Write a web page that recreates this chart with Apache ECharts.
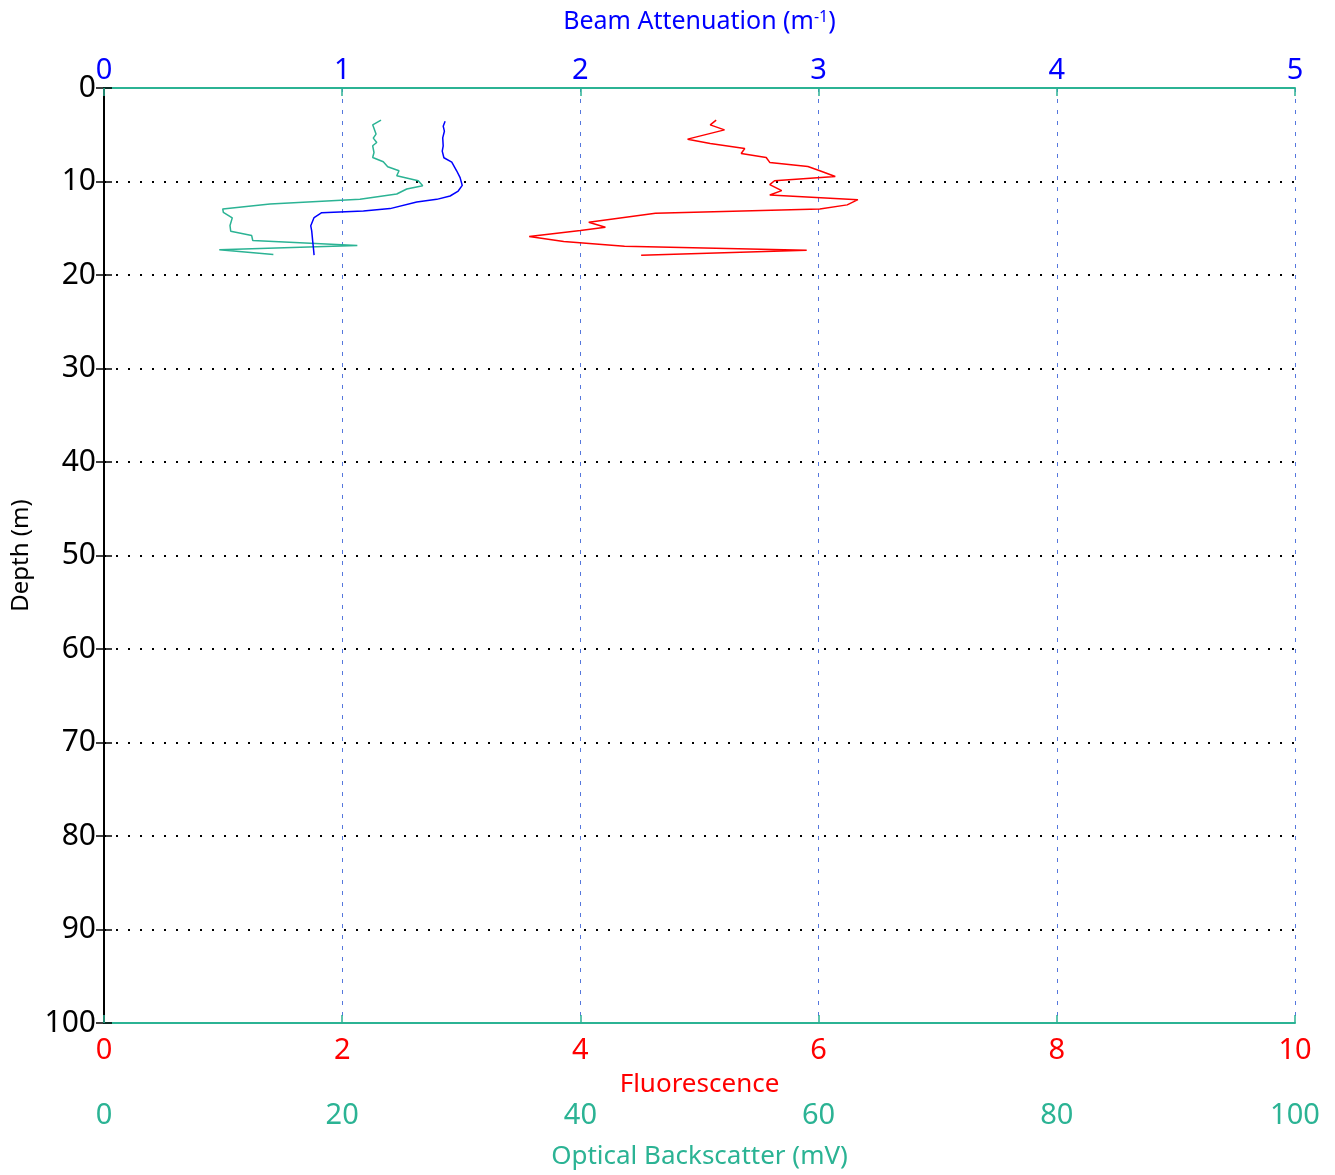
<!DOCTYPE html>
<html>
<head>
<meta charset="utf-8">
<script src="https://cdn.jsdelivr.net/npm/echarts@6/dist/echarts.min.js"></script>
<style>html,body{margin:0;padding:0;background:#fff;overflow:hidden;}#c{position:absolute;left:0;top:0;width:1335px;height:1175px;}</style>
</head>
<body>
<div id="c"></div>
<script>
// Fluorescence (red)
const fluorDepth = [3.44,3.94,4.48,5.47,5.94,6.47,7.0,7.43,7.96,8.39,8.85,9.46,9.92,10.34,10.98,11.44,11.94,12.5,12.93,13.4,14.36,14.9,15.25,15.88,16.42,16.92,17.34,17.9];
const fluorValues = [5.14,5.09,5.21,4.90,5.09,5.38,5.35,5.56,5.59,5.91,6.01,6.14,5.63,5.59,5.69,5.59,6.33,6.24,6.01,4.63,4.07,4.21,4.00,3.57,3.86,4.37,5.90,4.51];
// Beam attenuation (blue)
const beamDepth = [3.55,4.08,4.62,5.33,6.2,6.75,7.46,7.92,8.88,9.59,10.42,11.02,11.55,11.91,12.19,12.9,13.15,13.33,13.86,14.74,15.28,16.35,17.06,17.88];
const beamValues = [1.432,1.424,1.429,1.422,1.424,1.42,1.427,1.46,1.481,1.495,1.504,1.487,1.453,1.397,1.313,1.201,1.089,0.914,0.882,0.868,0.872,0.876,0.879,0.882];
// Optical backscatter (teal)
const obsDepth = [3.44,3.94,4.93,5.36,5.83,6.18,6.9,7.43,7.89,8.42,8.85,9.38,9.92,10.45,10.8,11.34,11.91,12.4,12.93,13.3,13.89,14.71,15.32,15.78,16.31,16.84,17.3,17.8];
const obsValues = [23.26,22.56,22.84,22.61,22.9,22.56,22.67,22.56,23.45,23.82,24.77,24.58,26.39,26.76,25.42,24.58,21.49,13.94,9.97,10.02,10.77,10.58,10.64,12.4,12.49,21.27,9.68,14.22];

const depthTicks = [0,100,10];
const FONT = 'Noto Sans';
const TEAL = '#2bb394';

const pairs = (vals, depths) => vals.map((v, i) => [v, depths[i]]);

const chart = echarts.init(document.getElementById('c'));
chart.setOption({
  animation: false,
  backgroundColor: '#fff',
  textStyle: { fontFamily: FONT },
  grid: { left: 104, right: 40, top: 88, bottom: 147, containLabel: false },
  xAxis: [
    { // 0: beam attenuation top
      type: 'value', position: 'top', min: 0, max: 5, interval: 1,
      name: 'Beam Attenuation (m{sup|-1})', nameLocation: 'middle', nameGap: 53,
      nameTextStyle: { color: '#0000ff', fontSize: 25, fontFamily: FONT,
        rich: { sup: { fontSize: 16, color: '#0000ff', verticalAlign: 'top', padding: [0,0,10,0] } } },
      axisLine: { show: true, lineStyle: { color: TEAL, width: 2 } },
      axisTick: { show: true, inside: true, length: 8, lineStyle: { color: TEAL, width: 1.5 } },
      axisLabel: { color: '#0000ff', fontSize: 29, margin: 3, fontFamily: FONT },
      splitLine: { show: true, lineStyle: { color: '#5577dd', type: [4, 7], width: 1 } }
    },
    { // 1: fluorescence bottom
      type: 'value', position: 'bottom', min: 0, max: 10, interval: 2,
      name: 'Fluorescence', nameLocation: 'middle', nameGap: 49,
      nameTextStyle: { color: '#ff0000', fontSize: 26, fontFamily: FONT },
      axisLine: { show: false },
      axisTick: { show: false },
      axisLabel: { color: '#ff0000', fontSize: 29, margin: 13, fontFamily: FONT },
      splitLine: { show: false }
    },
    { // 2: backscatter bottom
      type: 'value', position: 'bottom', min: 0, max: 100, interval: 20,
      name: 'Optical Backscatter (mV)', nameLocation: 'middle', nameGap: 121,
      nameTextStyle: { color: TEAL, fontSize: 26, fontFamily: FONT },
      axisLine: { show: true, lineStyle: { color: TEAL, width: 2 } },
      axisTick: { show: true, inside: true, length: 8, lineStyle: { color: TEAL, width: 1.5 } },
      axisLabel: { color: TEAL, fontSize: 29, margin: 78, fontFamily: FONT },
      splitLine: { show: false }
    }
  ],
  yAxis: [
    {
      type: 'value', inverse: true, min: depthTicks[0], max: depthTicks[1], interval: depthTicks[2],
      position: 'left',
      name: 'Depth (m)', nameLocation: 'middle', nameGap: 70, nameRotate: 90,
      nameTextStyle: { color: '#000', fontSize: 24, fontFamily: FONT },
      axisLine: { show: true, lineStyle: { color: '#000', width: 2 } },
      axisTick: { show: true, inside: true, length: 8, lineStyle: { color: '#000', width: 1.5 } },
      axisLabel: { color: '#000', fontSize: 30, margin: 8, fontFamily: FONT },
      splitLine: { show: true, lineStyle: { color: '#000', type: [2, 10], width: 2 } }
    },
    {
      type: 'value', inverse: true, min: depthTicks[0], max: depthTicks[1], interval: depthTicks[2],
      position: 'right',
      axisLine: { show: true, lineStyle: { color: '#000', width: 2 } },
      axisTick: { show: true, inside: true, length: 8, lineStyle: { color: '#000', width: 1.5 } },
      axisLabel: { show: false },
      splitLine: { show: false }
    }
  ],
  series: [
    { type: 'line', xAxisIndex: 2, yAxisIndex: 0, data: pairs(obsValues, obsDepth),
      showSymbol: false, symbol: 'none', lineStyle: { color: TEAL, width: 1.5 } },
    { type: 'line', xAxisIndex: 0, yAxisIndex: 0, data: pairs(beamValues, beamDepth),
      showSymbol: false, symbol: 'none', lineStyle: { color: '#0000ff', width: 1.5 } },
    { type: 'line', xAxisIndex: 1, yAxisIndex: 0, data: pairs(fluorValues, fluorDepth),
      showSymbol: false, symbol: 'none', lineStyle: { color: '#ff0000', width: 1.5 } }
  ]
});
</script>
</body>
</html>
